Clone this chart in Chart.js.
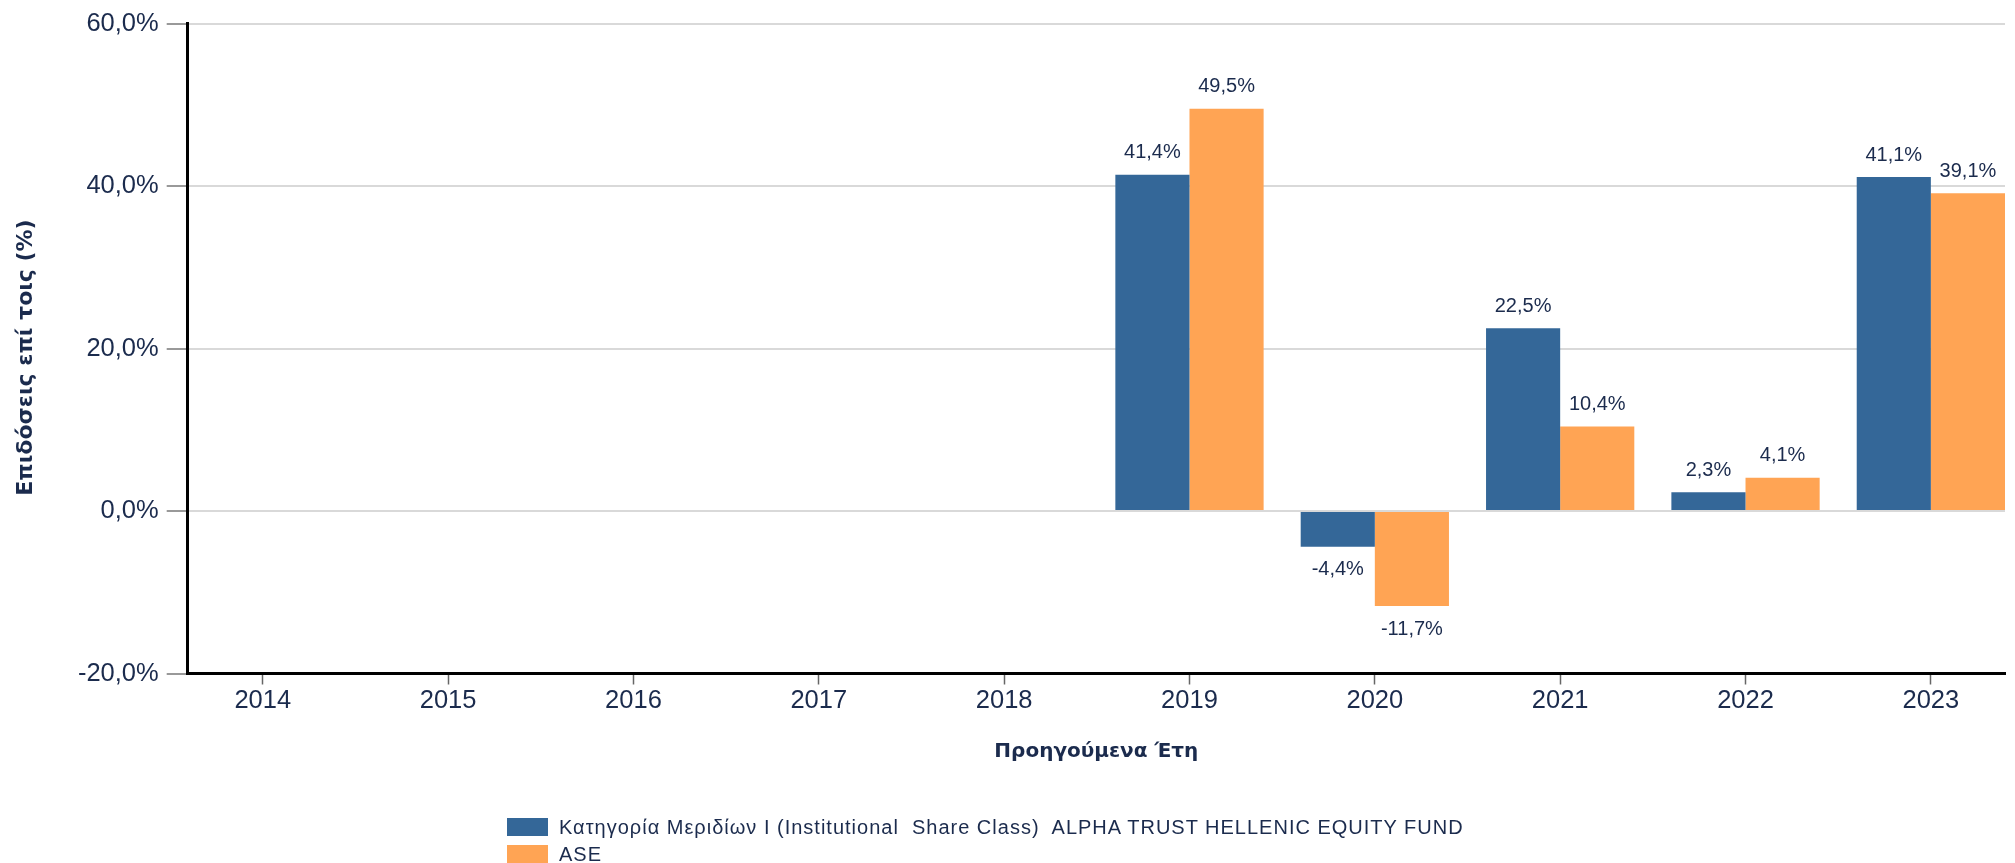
<!DOCTYPE html>
<html>
<head>
<meta charset="utf-8">
<script src="https://cdn.jsdelivr.net/npm/chart.js@4.4.1/dist/chart.umd.min.js"></script>
<style>
  html, body { margin: 0; padding: 0; background: #ffffff; overflow: hidden; }
  #wrap { position: relative; width: 2015px; height: 863px; }
  #chart { position: absolute; left: 0; top: 0; }
  .leg { position: absolute; left: 507px; font-family: "Liberation Sans", Arial, sans-serif; font-size: 20px; letter-spacing: 1px; color: #1b2b4d; white-space: pre; line-height: 20px; }
  .leg .box { position: absolute; left: 0; width: 41px; height: 18px; }
  .leg .txt { position: absolute; left: 52px; top: 0; }
</style>
</head>
<body>
<div id="wrap">
  <canvas id="chart" width="2015" height="863"></canvas>
  <div id="legend"></div>
</div>
<script>
// ---- data ----
const categories = ["2014", "2015", "2016", "2017", "2018", "2019", "2020", "2021", "2022", "2023"];
const fundValues = [null, null, null, null, null, 41.4, -4.4, 22.5, 2.3, 41.1];
const aseValues  = [null, null, null, null, null, 49.5, -11.7, 10.4, 4.1, 39.1];
const seriesNames = ["Κατηγορία Μεριδίων I (Institutional  Share Class)  ALPHA TRUST HELLENIC EQUITY FUND", "ASE"];
const yTicks = [-20, 0, 20, 40, 60];
const xTitle = "Προηγούμενα Έτη";
const yTitle = "Επιδόσεις επί τοις (%)";

// ---- styles ----
const BLUE = "#346798";
const ORANGE = "#FFA454";
const NAVY = "#1b2b4d";
const TITLE_FONT = 'bold 22px "DejaVu Sans", Verdana, sans-serif';

function fmt(v) { return v.toFixed(1).replace(".", ",") + "%"; }
function toPoints(vals) {
  return vals.map((v, i) => ({ x: i, y: v })).filter(p => p.y !== null);
}

const valueLabels = {
  id: "valueLabels",
  afterDatasetsDraw(chart) {
    const ctx = chart.ctx;
    ctx.save();
    ctx.font = '20px "Liberation Sans", Arial, sans-serif';
    ctx.fillStyle = NAVY;
    ctx.textAlign = "center";
    ctx.textBaseline = "middle";
    chart.data.datasets.forEach((ds, di) => {
      const meta = chart.getDatasetMeta(di);
      meta.data.forEach((bar, j) => {
        const v = ds.data[j].y;
        if (v === null || v === undefined) return;
        const y = v >= 0 ? bar.y - 22 : bar.y + 23;
        ctx.fillText(fmt(v), bar.x, y);
      });
    });
    ctx.restore();
  }
};

// y-axis title, drawn rotated beside the value axis
const yAxisTitle = {
  id: "yAxisTitle",
  afterDraw(chart) {
    const ctx = chart.ctx;
    const area = chart.chartArea;
    ctx.save();
    ctx.font = TITLE_FONT;
    ctx.fillStyle = NAVY;
    ctx.textAlign = "center";
    ctx.textBaseline = "middle";
    ctx.translate(26, (area.top + area.bottom) / 2 + 9);
    ctx.rotate(-Math.PI / 2);
    ctx.fillText(yTitle, 0, 0);
    ctx.restore();
  }
};

Chart.defaults.font.family = '"Liberation Sans", Arial, sans-serif';
Chart.defaults.color = NAVY;

new Chart(document.getElementById("chart"), {
  type: "bar",
  data: {
    datasets: [
      { label: seriesNames[0], data: toPoints(fundValues), backgroundColor: BLUE, borderWidth: 0 },
      { label: seriesNames[1], data: toPoints(aseValues), backgroundColor: ORANGE, borderWidth: 0 }
    ]
  },
  options: {
    responsive: false,
    animation: false,
    devicePixelRatio: 1,
    categoryPercentage: 0.8,
    barPercentage: 1.0,
    layout: { padding: { top: 23.5, right: 10, left: 0, bottom: 0 } },
    plugins: {
      legend: { display: false },
      tooltip: { enabled: false }
    },
    scales: {
      x: {
        type: "linear",
        offset: false,
        min: -0.405,
        max: 9.4,
        afterBuildTicks(axis) { axis.ticks = categories.map((c, i) => ({ value: i })); },
        afterFit(axis) { axis.height = 189.5; },
        ticks: {
          autoSkip: false,
          maxRotation: 0,
          padding: 1,
          color: NAVY,
          font: { size: 25.5 },
          callback: (v) => categories[v]
        },
        grid: {
          offset: false,
          display: true,
          drawOnChartArea: false,
          drawTicks: true,
          tickLength: 11,
          tickColor: "#666666",
          tickWidth: 1.5
        },
        border: { display: true, color: "#000000", width: 3 },
        title: {
          display: true,
          text: xTitle,
          color: NAVY,
          font: { family: '"DejaVu Sans", Verdana, sans-serif', size: 20, weight: "bold" },
          padding: { top: 0, bottom: 99 }
        }
      },
      y: {
        min: -20,
        max: 60,
        afterBuildTicks(axis) { axis.ticks = yTicks.map(v => ({ value: v })); },
        afterFit(axis) { axis.width = 187.7; },
        ticks: {
          padding: 8,
          color: NAVY,
          font: { size: 25.5 },
          callback: (v) => fmt(v)
        },
        grid: {
          color: "#d9d9d9",
          lineWidth: 2,
          tickLength: 21,
          tickColor: "#777777",
          tickWidth: 1.5
        },
        border: { display: true, color: "#000000", width: 3 },
        title: { display: false, text: yTitle }
      }
    }
  },
  plugins: [valueLabels, yAxisTitle]
});

// HTML legend built from the series names
const legend = document.getElementById("legend");
const colors = [BLUE, ORANGE];
const tops = [817, 844];
seriesNames.forEach((name, i) => {
  const row = document.createElement("div");
  row.className = "leg";
  row.style.top = tops[i] + "px";
  const box = document.createElement("div");
  box.className = "box";
  box.style.background = colors[i];
  box.style.top = "1px";
  const txt = document.createElement("div");
  txt.className = "txt";
  txt.textContent = name;
  row.appendChild(box);
  row.appendChild(txt);
  legend.appendChild(row);
});
</script>
</body>
</html>
